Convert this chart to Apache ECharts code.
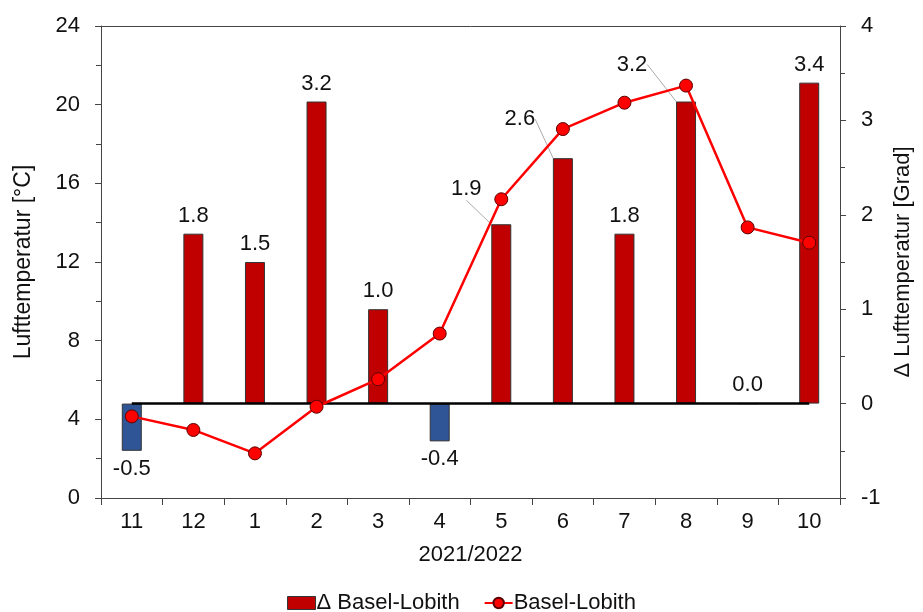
<!DOCTYPE html>
<html>
<head>
<meta charset="utf-8">
<script src="https://cdn.jsdelivr.net/npm/echarts@6/dist/echarts.min.js"></script>
<style>
html,body{margin:0;padding:0;background:#fff;}
#chart{width:923px;height:612px;}
</style>
</head>
<body>
<div id="chart"></div>
<script>
const months = ['11','12','1','2','3','4','5','6','7','8','9','10'];
const deltaValues = [-0.5, 1.8, 1.5, 3.2, 1.0, -0.4, 1.9, 2.6, 1.8, 3.2, 0.0, 3.4];
const tempValues = [4.15, 3.46, 2.27, 4.64, 6.04, 8.36, 15.19, 18.76, 20.1, 20.97, 13.76, 12.98];
const leftTicks = [0, 24, 4];
const rightTicks = [-1, 4, 1];

const FONT = "'Liberation Sans', Arial, sans-serif";
const FS = 22;
const TXT = '#111';
const AX = '#444';
const RED = '#C00000';

// label shift for labels moved away from the line (by data index)
const labelShift = {6: [-35, -17], 7: [-43, -21], 9: [-54, -19]};

const barData = deltaValues.map((v, i) => ({
  value: v,
  itemStyle: v < 0 ? {color: '#2F5597'} : undefined,
  label: v < 0 ? {position: 'bottom'} : undefined,
  labelLine: {show: !!labelShift[i], lineStyle: {color: '#aaa', width: 1}}
}));

const chart = echarts.init(document.getElementById('chart'));
chart.setOption({
  animation: false,
  textStyle: {fontFamily: FONT},
  grid: {left: 101, right: 83, top: 26, bottom: 114},
  legend: {
    top: 592, left: 'center', padding: 0,
    itemWidth: 28, itemHeight: 13, itemGap: 24,
    textStyle: {fontFamily: FONT, fontSize: FS, color: TXT, padding: [0,0,0,-4]},
    data: [
      {name: 'Δ Basel-Lobith', icon: 'rect', itemStyle: {color: RED, borderColor: '#333', borderWidth: 1}},
      {name: 'Basel-Lobith'}
    ]
  },
  xAxis: [{
    type: 'category',
    data: months,
    boundaryGap: true,
    name: '2021/2022',
    nameLocation: 'middle',
    nameGap: 46,
    nameTextStyle: {fontFamily: FONT, fontSize: FS, color: TXT},
    axisLine: {show: true, lineStyle: {color: AX, width: 1}},
    axisTick: {show: true, length: 7, lineStyle: {color: AX}},
    axisLabel: {fontFamily: FONT, fontSize: FS, color: TXT, margin: 13},
    splitLine: {show: false}
  }, {
    type: 'category',
    data: months,
    position: 'top',
    axisLine: {show: true, onZero: false, lineStyle: {color: AX, width: 1}},
    axisTick: {show: false},
    axisLabel: {show: false},
    splitLine: {show: false}
  }],
  yAxis: [{
    type: 'value',
    min: leftTicks[0], max: leftTicks[1], interval: leftTicks[2],
    position: 'left',
    name: 'Lufttemperatur [°C]',
    nameLocation: 'middle',
    nameRotate: 90,
    nameGap: 66,
    nameTextStyle: {fontFamily: FONT, fontSize: 23, color: TXT},
    axisLine: {show: true, lineStyle: {color: AX, width: 1}},
    axisTick: {show: true, length: 6, lineStyle: {color: AX}},
    minorTick: {show: true, splitNumber: 2, length: 5, lineStyle: {color: AX}},
    axisLabel: {fontFamily: FONT, fontSize: FS, color: TXT, margin: 21},
    splitLine: {show: false}
  }, {
    type: 'value',
    min: rightTicks[0], max: rightTicks[1], interval: rightTicks[2],
    position: 'right',
    name: 'Δ Lufttemperatur [Grad]',
    nameLocation: 'middle',
    nameRotate: 90,
    nameGap: 43,
    nameTextStyle: {fontFamily: FONT, fontSize: FS, color: TXT},
    axisLine: {show: true, onZero: false, lineStyle: {color: AX, width: 1}},
    axisTick: {show: true, length: 6, lineStyle: {color: AX}},
    minorTick: {show: true, splitNumber: 2, length: 5, lineStyle: {color: AX}},
    axisLabel: {fontFamily: FONT, fontSize: FS, color: TXT, margin: 21},
    splitLine: {show: false}
  }],
  series: [{
    name: 'Δ Basel-Lobith',
    type: 'bar',
    xAxisIndex: 0,
    yAxisIndex: 1,
    barWidth: 20,
    data: barData,
    itemStyle: {color: RED, borderColor: '#333', borderWidth: 1},
    label: {
      show: true, position: 'top', distance: 7,
      fontFamily: FONT, fontSize: FS, color: TXT,
      formatter: p => p.value.toFixed(1)
    },
    labelLayout: function (params) {
      const s = labelShift[params.dataIndex];
      if (s) return {dx: s[0], dy: s[1]};
      return {};
    },
    markLine: {
      silent: true,
      symbol: 'none',
      label: {show: false},
      lineStyle: {color: '#000', width: 2.5, type: 'solid'},
      z: 5,
      data: [[{coord: [0, 0]}, {coord: [months.length - 1, 0]}]]
    },
    z: 2
  }, {
    name: 'Basel-Lobith',
    type: 'line',
    xAxisIndex: 0,
    yAxisIndex: 0,
    data: tempValues,
    symbol: 'circle',
    symbolSize: 13,
    lineStyle: {color: '#FF0000', width: 2.5},
    itemStyle: {color: '#FF0000', borderColor: '#5a0000', borderWidth: 1},
    z: 10
  }]
});
</script>
</body>
</html>
